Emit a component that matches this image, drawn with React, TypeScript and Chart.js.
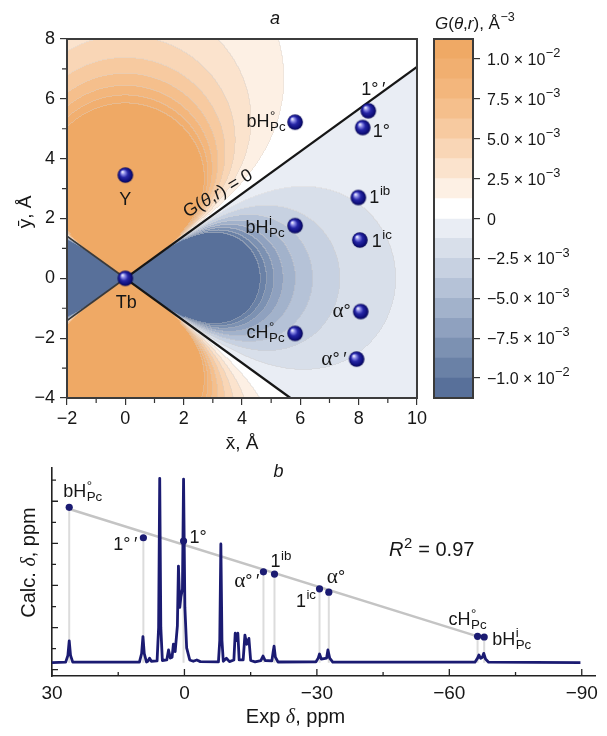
import React, { useEffect, useRef } from "react";
import { Chart, registerables } from "chart.js";

Chart.register(...registerables);

const SANS = '"Liberation Sans", Arial, "DejaVu Sans", sans-serif';
const SERIF = '"Liberation Serif", "DejaVu Serif", serif';
const INK = "#161616";
const NAVY = "#1b1b72";

// ---------------- panel a: G(θ,r) map around the Tb site ----------------
const xTicksA = [-2, 0, 2, 4, 6, 8, 10];
const xMinorA = [-1, 1, 3, 5, 7, 9];
const yTicksA = [-4, -2, 0, 2, 4, 6, 8];
const yMinorA = [-3, -1, 1, 3, 5, 7];

const atomNames = ["Y", "Tb", "bH°Pc", "bHiPc", "cH°Pc", "1°′", "1°", "1ib", "1ic", "α°", "α°′"];
const atomX = [0, 0, 5.82, 5.82, 5.82, 8.33, 8.14, 7.99, 8.04, 8.07, 7.93];
const atomY = [3.45, 0, 5.22, 1.76, -1.84, 5.6, 5.04, 2.7, 1.28, -1.11, -2.7];

// nodal cone G(θ,r) = 0 through the Tb site
const zeroUpperX = [-2, 0, 10];
const zeroUpperY = [-1.41, 0, 7.07];
const zeroLowerX = [-2, 0, 5.66];
const zeroLowerY = [1.41, 0, -4];

// filled contour levels (Å⁻³) and the colour of each band between them
const contourLevels = [
  -11.25e-3, -10e-3, -8.75e-3, -7.5e-3, -6.25e-3, -5e-3, -3.75e-3, -2.5e-3, -1.25e-3, 0,
  1.25e-3, 2.5e-3, 3.75e-3, 5e-3, 6.25e-3, 7.5e-3, 8.75e-3, 10e-3, 11.25e-3,
];
const bandColors = [
  "#58709a", "#6a81a6", "#7c91b2", "#8fa1bf", "#a2b2cb", "#b5c2d7", "#c7d1e1", "#d8dfea", "#e9edf4",
  "#ffffff", "#fdf0e4", "#fbe3cd", "#f9d6b6", "#f7caa0", "#f5bf8c", "#f3b67c", "#f1af70", "#efa965",
];

const cbTickValues = [1e-2, 7.5e-3, 5e-3, 2.5e-3, 0, -2.5e-3, -5e-3, -7.5e-3, -1e-2];
const cbTickMantissa = ["1.0", "7.5", "5.0", "2.5", "0", "\u22122.5", "\u22125.0", "\u22127.5", "\u22121.0"];
const cbTickExponent = ["\u22122", "\u22123", "\u22123", "\u22123", "", "\u22123", "\u22123", "\u22123", "\u22122"];

// ---------------- panel b: calculated vs experimental shifts ----------------
const shiftNames = ["bH°Pc", "1°′", "1°", "α°′", "1ib", "1ic", "α°", "cH°Pc", "bHiPc"];
const expShift = [26.1, 9.3, 0.2, -17.9, -20.4, -30.6, -32.7, -66.4, -67.9];
const calcShift = [25.7, 4.0, 1.6, -20.3, -21.9, -32.4, -34.8, -66.2, -66.7];
const fitExp = [26.1, -66.4];
const fitCalc = [24.5, -66.3];

// 1H NMR trace (ppm, relative intensity)
const specPpm = [
  30, 26.9, 26.4, 26.1, 25.8, 25.3, 10.2, 9.7, 9.4, 9.1, 8.6, 8.3, 7.9, 7.5, 6.2, 5.85, 5.6, 5.35, 5.0,
  4.0, 3.6, 3.2, 2.8, 2.5, 2.1, 1.6, 1.36, 1.05, 0.8, 0.45, 0.2, -0.1, -0.5, -1.2, -2.0, -2.8, -3.6,
  -7.7, -8.0, -8.25, -8.5, -8.8, -9.5, -10.2, -11.2, -11.5, -11.8, -12.1, -12.4, -13.3, -13.7, -14.1,
  -14.6, -15.0, -16.0, -17.3, -17.8, -18.3, -19.8, -20.1, -20.3, -20.6, -21.2, -29.8, -30.3, -30.6,
  -31.0, -32.2, -32.5, -32.9, -33.6, -65.8, -66.4, -66.7, -67.1, -67.5, -67.8, -68.2, -68.9, -89.7,
];
const specInt = [
  0, 0.3, 4, 11.9, 4, 0.3, 0.3, 5, 14.1, 5, 0.4, 0.8, 2.4, 0.8, 1.0, 19, 100, 19, 1.2,
  1.5, 6.9, 2.5, 3, 10.1, 6, 20, 52.4, 30, 35.8, 40, 99.6, 30, 8, 1.5, 0.8, 1.5, 0.6,
  0.5, 12, 64.4, 12, 0.8, 2.4, 0.6, 1.5, 16, 12, 16, 1.5, 1.5, 15, 10,
  13.2, 1.2, 0.5, 1.2, 3.6, 1.2, 1.0, 6, 9, 3, 0.4, 0.5, 2.5, 4.7,
  2, 2.5, 6.9, 2.5, 0.3, 0.3, 2.5, 4.2, 2.4, 3, 5.1, 2, 0.3, 0,
];

const xTicksB = [30, 0, -30, -60, -90];
const xMinorB = [15, -15, -45, -75];
const yTicksB = [30, 0, -30, -60, -90];
const yMinorB = [45, 15, -15, -45, -75];

// ---------------- text helpers ----------------
type Seg = { t: string; it?: boolean; serif?: boolean; sc?: number; sup?: string; sub?: string };
type Align = "left" | "right" | "center";

const rich: Record<string, Seg[]> = {
  Y: [{ t: "Y" }],
  Tb: [{ t: "Tb" }],
  "bH°Pc": [{ t: "bH", sup: "°", sub: "Pc" }],
  bHiPc: [{ t: "bH", sup: "i", sub: "Pc" }],
  "cH°Pc": [{ t: "cH", sup: "°", sub: "Pc" }],
  "1°′": [{ t: "1°\u2009′" }],
  "1°": [{ t: "1°" }],
  "1ib": [{ t: "1", sup: "ib" }],
  "1ic": [{ t: "1", sup: "ic" }],
  "α°": [{ t: "α", serif: true, sc: 1.18 }, { t: "°" }],
  "α°′": [{ t: "α", serif: true, sc: 1.18 }, { t: "°\u2009′" }],
};

// label offsets (px) from each marker, with alignment
const atomLabelPlace: Record<string, [number, number, Align]> = {
  Y: [0, 30, "center"],
  Tb: [1, 30, "center"],
  "bH°Pc": [-9, 5, "right"],
  bHiPc: [-10, 7, "right"],
  "cH°Pc": [-10, 5, "right"],
  "1°′": [5, -16, "center"],
  "1°": [10, 9, "left"],
  "1ib": [11, 5, "left"],
  "1ic": [12, 7, "left"],
  "α°": [-10, 5, "right"],
  "α°′": [-10, 6, "right"],
};
const shiftLabelPlace: Record<string, [number, number, Align]> = {
  "bH°Pc": [-6, -10, "left"],
  "1°′": [-6, 12, "right"],
  "1°": [6, 2, "left"],
  "α°′": [-4, 15, "right"],
  "1ib": [-4, -7, "left"],
  "1ic": [-3, 18, "right"],
  "α°": [-2, -9, "left"],
  "cH°Pc": [-29, -11, "left"],
  bHiPc: [8, 8, "left"],
};

const fontOf = (size: number, it = false, serif = false) =>
  `${it ? "italic " : ""}${size}px ${serif ? SERIF : SANS}`;

function drawRich(
  ctx: CanvasRenderingContext2D,
  segs: Seg[],
  x: number,
  y: number,
  size: number,
  align: Align,
  color = INK,
  supRaise = 0.42,
  subDrop = 0.22,
  smallRatio = 0.74
) {
  const small = size * smallRatio;
  const m = segs.map((s) => {
    ctx.font = fontOf(size * (s.sc || 1), s.it, s.serif);
    const wb = ctx.measureText(s.t).width;
    ctx.font = fontOf(small);
    const ws = s.sup ? ctx.measureText(s.sup).width : 0;
    const wd = s.sub ? ctx.measureText(s.sub).width : 0;
    const wx = Math.max(ws, wd);
    return { wb, wx: wx ? wx + 1 : 0 };
  });
  const total = m.reduce((acc, q) => acc + q.wb + q.wx, 0);
  let cx = align === "left" ? x : align === "right" ? x - total : x - total / 2;
  ctx.fillStyle = color;
  ctx.textAlign = "left";
  ctx.textBaseline = "alphabetic";
  segs.forEach((s, i) => {
    ctx.font = fontOf(size * (s.sc || 1), s.it, s.serif);
    ctx.fillText(s.t, cx, y);
    cx += m[i].wb;
    if (m[i].wx) {
      ctx.font = fontOf(small);
      if (s.sup) ctx.fillText(s.sup, cx + 0.5, y - size * supRaise);
      if (s.sub) ctx.fillText(s.sub, cx + 0.5, y + size * subDrop);
      cx += m[i].wx;
    }
  });
}

const fmt = (v: number | string) => {
  const n = Number(v);
  return n < 0 ? "\u2212" + Math.abs(n) : String(n);
};

const pts = (xs: number[], ys: number[]) => xs.map((x, i) => ({ x, y: ys[i] }));

// ---------------- field ----------------
// G(θ,r) = (3cos²θ − 1) / r³, θ from the ȳ axis, Tb at the origin
function gField(x: number, y: number) {
  const r2 = x * x + y * y;
  if (r2 < 1e-9) return 0;
  return (2 * y * y - x * x) / (r2 * r2 * Math.sqrt(r2));
}

function bandIndex(g: number) {
  let i = 0;
  while (i < bandColors.length - 1 && g >= contourLevels[i + 1]) i++;
  return i;
}

function parseHex(c: string): [number, number, number] {
  const n = parseInt(c.slice(1), 16);
  return [(n >> 16) & 255, (n >> 8) & 255, n & 255];
}

const contourPlugin = {
  id: "gContour",
  beforeDatasetsDraw(chart: any) {
    const { ctx, chartArea: a, scales } = chart;
    const x0 = Math.round(a.left);
    const y0 = Math.round(a.top);
    const w = Math.round(a.right) - x0;
    const h = Math.round(a.bottom) - y0;
    const band = new Int16Array(w * h);
    const rad = new Float32Array(w * h);
    for (let j = 0; j < h; j++) {
      const yv = scales.y.getValueForPixel(y0 + j + 0.5);
      for (let i = 0; i < w; i++) {
        const xv = scales.x.getValueForPixel(x0 + i + 0.5);
        band[j * w + i] = bandIndex(gField(xv, yv));
        rad[j * w + i] = Math.hypot(xv, yv);
      }
    }
    const rgb = bandColors.map(parseHex);
    const off = document.createElement("canvas");
    off.width = w;
    off.height = h;
    const octx = off.getContext("2d")!;
    const img = octx.createImageData(w, h);
    for (let j = 0; j < h; j++) {
      for (let i = 0; i < w; i++) {
        const k = j * w + i;
        let [r, g, b] = rgb[band[k]];
        const edge =
          rad[k] > 2.4 &&
          ((i + 1 < w && band[k + 1] !== band[k]) || (j + 1 < h && band[k + w] !== band[k]));
        if (edge) {
          r = r * 0.65 + 212 * 0.35;
          g = g * 0.65 + 208 * 0.35;
          b = b * 0.65 + 206 * 0.35;
        }
        img.data[k * 4] = r;
        img.data[k * 4 + 1] = g;
        img.data[k * 4 + 2] = b;
        img.data[k * 4 + 3] = 255;
      }
    }
    octx.putImageData(img, 0, 0);
    ctx.drawImage(off, x0, y0);
  },
};

const panelAPlugin = {
  id: "panelA",
  afterDatasetsDraw(chart: any) {
    const { ctx, chartArea: a, scales } = chart;
    const { x, y } = scales;
    ctx.save();
    ctx.strokeStyle = "#3c3c3c";
    ctx.lineWidth = 2;
    ctx.strokeRect(a.left, a.top, a.right - a.left, a.bottom - a.top);

    ctx.strokeStyle = "#333";
    ctx.lineWidth = 1.2;
    ctx.beginPath();
    xMinorA.forEach((v) => {
      const px = x.getPixelForValue(v);
      ctx.moveTo(px, a.bottom + 1);
      ctx.lineTo(px, a.bottom + 5);
    });
    yMinorA.forEach((v) => {
      const py = y.getPixelForValue(v);
      ctx.moveTo(a.left - 1, py);
      ctx.lineTo(a.left - 5, py);
    });
    ctx.stroke();

    atomNames.forEach((n, i) => {
      const [dx, dy, al] = atomLabelPlace[n];
      drawRich(ctx, rich[n], x.getPixelForValue(atomX[i]) + dx, y.getPixelForValue(atomY[i]) + dy, 18, al);
    });

    // annotation of the nodal cone
    const ax = x.getPixelForValue(2.1);
    const ay = y.getPixelForValue(1.485);
    ctx.save();
    ctx.translate(ax + 1, ay - 16);
    ctx.rotate(-0.54);
    drawRich(
      ctx,
      [{ t: "G(" }, { t: "\u03b8", it: true }, { t: "," }, { t: "r", it: true }, { t: ") = 0" }],
      0,
      0,
      18,
      "left"
    );
    ctx.restore();

    // axis titles and panel letter
    drawRich(ctx, [{ t: "x\u0304, \u00c5" }], (a.left + a.right) / 2, 449, 19, "center");
    ctx.save();
    ctx.translate(31, 212);
    ctx.rotate(-Math.PI / 2);
    drawRich(ctx, [{ t: "\u0233, \u00c5" }], 0, 0, 19, "center");
    ctx.restore();
    drawRich(ctx, [{ t: "a", it: true }], 275, 24, 18, "center");
    ctx.restore();
  },
};

const colorbarPlugin = {
  id: "colorbar",
  afterDraw(chart: any) {
    const { ctx, chartArea: a, scales } = chart;
    ctx.save();
    ctx.strokeStyle = "#3a3a3a";
    ctx.lineWidth = 2;
    ctx.strokeRect(a.left, a.top, a.right - a.left, a.bottom - a.top);
    cbTickValues.forEach((v, i) => {
      const py = scales.y.getPixelForValue(v);
      const e = cbTickExponent[i];
      const segs: Seg[] = e
        ? [{ t: cbTickMantissa[i] + " \u00d7 10", sup: e }]
        : [{ t: cbTickMantissa[i] }];
      drawRich(ctx, segs, a.right + 14, py + 6, 16, "left", INK, 0.48, 0.22, 0.8);
    });
    drawRich(
      ctx,
      [
        { t: "G", it: true },
        { t: "(" },
        { t: "\u03b8", it: true },
        { t: "," },
        { t: "r", it: true },
        { t: "), \u00c5", sup: "\u22123" },
      ],
      a.left + 1,
      29,
      17,
      "left",
      INK,
      0.45
    );
    ctx.restore();
  },
};

const panelBPlugin = {
  id: "panelB",
  beforeDatasetsDraw(chart: any) {
    const { ctx, scales } = chart;
    const base = scales.ys.getPixelForValue(0);
    ctx.save();
    ctx.strokeStyle = "#dcdcdc";
    ctx.lineWidth = 2;
    ctx.beginPath();
    expShift.forEach((v, i) => {
      const px = scales.x.getPixelForValue(v);
      ctx.moveTo(px, scales.y.getPixelForValue(calcShift[i]));
      ctx.lineTo(px, base);
    });
    ctx.stroke();
    ctx.restore();
  },
  afterDatasetsDraw(chart: any) {
    const { ctx, chartArea: a, scales } = chart;
    const { x, y } = scales;
    ctx.save();
    ctx.strokeStyle = "#222";
    ctx.lineWidth = 1.3;
    ctx.beginPath();
    xTicksB.forEach((v) => {
      const px = x.getPixelForValue(v);
      ctx.moveTo(px, a.bottom);
      ctx.lineTo(px, a.bottom - 7);
    });
    xMinorB.forEach((v) => {
      const px = x.getPixelForValue(v);
      ctx.moveTo(px, a.bottom);
      ctx.lineTo(px, a.bottom - 4);
    });
    yTicksB.forEach((v) => {
      const py = y.getPixelForValue(v);
      ctx.moveTo(a.left, py);
      ctx.lineTo(a.left + 6, py);
    });
    yMinorB.forEach((v) => {
      const py = y.getPixelForValue(v);
      ctx.moveTo(a.left, py);
      ctx.lineTo(a.left + 4, py);
    });
    ctx.stroke();

    shiftNames.forEach((n, i) => {
      const [dx, dy, al] = shiftLabelPlace[n];
      drawRich(ctx, rich[n], x.getPixelForValue(expShift[i]) + dx, y.getPixelForValue(calcShift[i]) + dy, 18, al);
    });

    drawRich(ctx, [{ t: "R", it: true, sup: "2" }, { t: " = 0.97" }], 389, 101, 20, "left", INK, 0.4);
    drawRich(ctx, [{ t: "b", it: true }], 278.5, 22, 18, "center");
    drawRich(ctx, [{ t: "Exp " }, { t: "\u03b4", it: true, serif: true }, { t: ", ppm" }], 295.5, 268, 20, "center");
    ctx.save();
    ctx.translate(35, 107.5);
    ctx.rotate(-Math.PI / 2);
    drawRich(ctx, [{ t: "Calc. " }, { t: "\u03b4", it: true, serif: true }, { t: ", ppm" }], 0, 0, 20, "center");
    ctx.restore();
    ctx.restore();
  },
};

function makeSphere(r: number) {
  const s = Math.ceil(r * 2 + 2);
  const c = document.createElement("canvas");
  c.width = s;
  c.height = s;
  const g = c.getContext("2d")!;
  const cx = s / 2;
  const cy = s / 2;
  const grad = g.createRadialGradient(cx - r * 0.38, cy - r * 0.42, r * 0.05, cx, cy, r);
  grad.addColorStop(0, "#f2f2ff");
  grad.addColorStop(0.22, "#8a8ae6");
  grad.addColorStop(0.5, "#2626a6");
  grad.addColorStop(0.85, "#0d0d78");
  grad.addColorStop(1, "#07074e");
  g.fillStyle = grad;
  g.beginPath();
  g.arc(cx, cy, r, 0, Math.PI * 2);
  g.fill();
  return c;
}

const tickFont = (size: number) => ({ family: SANS, size });

export default function App() {
  const aRef = useRef<HTMLCanvasElement>(null);
  const cbRef = useRef<HTMLCanvasElement>(null);
  const bRef = useRef<HTMLCanvasElement>(null);

  useEffect(() => {
    const charts: Chart[] = [];
    const common = {
      responsive: false,
      animation: false as const,
      events: [] as any[],
      devicePixelRatio: 1,
    };
    const sphere = makeSphere(7.8);

    charts.push(
      new Chart(aRef.current!, {
        type: "scatter",
        data: {
          datasets: [
            {
              data: pts(atomX, atomY),
              pointStyle: sphere as any,
              pointRadius: 8,
            },
            {
              data: pts(zeroUpperX.slice(1), zeroUpperY.slice(1)),
              showLine: true,
              pointRadius: 0,
              borderColor: "#161616",
              borderWidth: 2.3,
            },
            {
              data: pts(zeroLowerX.slice(1), zeroLowerY.slice(1)),
              showLine: true,
              pointRadius: 0,
              borderColor: "#161616",
              borderWidth: 2.3,
            },
            {
              data: pts(zeroUpperX.slice(0, 2), zeroUpperY.slice(0, 2)),
              showLine: true,
              pointRadius: 0,
              borderColor: "#3a3a3a",
              borderWidth: 1.8,
            },
            {
              data: pts(zeroLowerX.slice(0, 2), zeroLowerY.slice(0, 2)),
              showLine: true,
              pointRadius: 0,
              borderColor: "#3a3a3a",
              borderWidth: 1.8,
            },
          ],
        },
        options: {
          ...common,
          layout: { padding: { left: 0, top: 39, right: 13, bottom: 0 } },
          plugins: { legend: { display: false }, tooltip: { enabled: false } },
          scales: {
            x: {
              type: "linear",
              min: -2,
              max: 10,
              afterFit: (s: any) => {
                s.height = 62;
              },
              afterBuildTicks: (s: any) => {
                s.ticks = xTicksA.map((v) => ({ value: v }));
              },
              ticks: { font: tickFont(18), color: INK, padding: 3, maxRotation: 0, autoSkip: false, callback: fmt },
              grid: { drawOnChartArea: false, drawTicks: true, tickLength: 7, color: "#333", lineWidth: 1.2 },
              border: { display: false },
            },
            y: {
              type: "linear",
              min: -4,
              max: 8,
              afterFit: (s: any) => {
                s.width = 67;
              },
              afterBuildTicks: (s: any) => {
                s.ticks = yTicksA.map((v) => ({ value: v }));
              },
              ticks: { font: tickFont(18), color: INK, padding: 5, autoSkip: false, callback: fmt },
              grid: { drawOnChartArea: false, drawTicks: true, tickLength: 7, color: "#333", lineWidth: 1.2 },
              border: { display: false },
            },
          },
        } as any,
        plugins: [contourPlugin, panelAPlugin],
      })
    );

    charts.push(
      new Chart(cbRef.current!, {
        type: "bar",
        data: {
          labels: ["G"],
          datasets: bandColors.map((c, i) => ({
            data: [[contourLevels[i], contourLevels[i + 1]]] as any,
            backgroundColor: c,
            borderWidth: 0,
            barPercentage: 1,
            categoryPercentage: 1,
          })),
        },
        options: {
          ...common,
          layout: { padding: { left: 14, top: 39, right: 0, bottom: 22 } },
          plugins: { legend: { display: false }, tooltip: { enabled: false } },
          scales: {
            x: { display: false, stacked: true },
            y: {
              type: "linear",
              position: "right",
              min: contourLevels[0],
              max: contourLevels[contourLevels.length - 1],
              afterFit: (s: any) => {
                s.width = 134;
              },
              afterBuildTicks: (s: any) => {
                s.ticks = cbTickValues.map((v) => ({ value: v }));
              },
              ticks: { display: false },
              grid: { drawOnChartArea: false, drawTicks: true, tickLength: 7, color: "#333", lineWidth: 1.2 },
              border: { display: false },
            },
          },
        } as any,
        plugins: [colorbarPlugin],
      })
    );

    charts.push(
      new Chart(bRef.current!, {
        type: "scatter",
        data: {
          datasets: [
            {
              data: pts(expShift, calcShift),
              pointRadius: 3.6,
              pointBackgroundColor: NAVY,
              pointBorderWidth: 0,
              yAxisID: "y",
            },
            {
              data: pts(specPpm, specInt),
              showLine: true,
              pointRadius: 0,
              borderColor: NAVY,
              borderWidth: 2.8,
              borderJoinStyle: "round",
              tension: 0,
              yAxisID: "ys",
            },
            {
              data: pts(fitExp, fitCalc),
              showLine: true,
              pointRadius: 0,
              borderColor: "#c4c4c4",
              borderWidth: 2.4,
              yAxisID: "y",
            },
          ],
        },
        options: {
          ...common,
          layout: { padding: { left: 0, top: 13, right: 12, bottom: 0 } },
          plugins: { legend: { display: false }, tooltip: { enabled: false } },
          scales: {
            x: {
              type: "linear",
              reverse: true,
              min: -93,
              max: 30,
              afterFit: (s: any) => {
                s.height = 60;
              },
              afterBuildTicks: (s: any) => {
                s.ticks = xTicksB.map((v) => ({ value: v }));
              },
              ticks: { font: tickFont(19), color: INK, padding: 6, maxRotation: 0, autoSkip: false, callback: fmt },
              grid: { drawOnChartArea: false, drawTicks: false },
              border: { display: true, color: "#222", width: 1.6 },
            },
            y: {
              type: "linear",
              position: "left",
              min: -94.5,
              max: 53.7,
              afterFit: (s: any) => {
                s.width = 52;
              },
              ticks: { display: false },
              grid: { drawOnChartArea: false, drawTicks: false },
              border: { display: true, color: "#222", width: 1.6 },
            },
            ys: { type: "linear", position: "right", min: -7.2, max: 105.6, display: false },
          },
        } as any,
        plugins: [panelBPlugin],
      })
    );

    return () => charts.forEach((c) => c.destroy());
  }, []);

  return (
    <div style={{ position: "absolute", left: 0, top: 0, width: 607, height: 736, background: "#fff" }}>
      <canvas ref={aRef} width={430} height={460} style={{ position: "absolute", left: 0, top: 0 }} />
      <canvas ref={cbRef} width={187} height={420} style={{ position: "absolute", left: 420, top: 0 }} />
      <canvas ref={bRef} width={607} height={281} style={{ position: "absolute", left: 0, top: 455 }} />
    </div>
  );
}
